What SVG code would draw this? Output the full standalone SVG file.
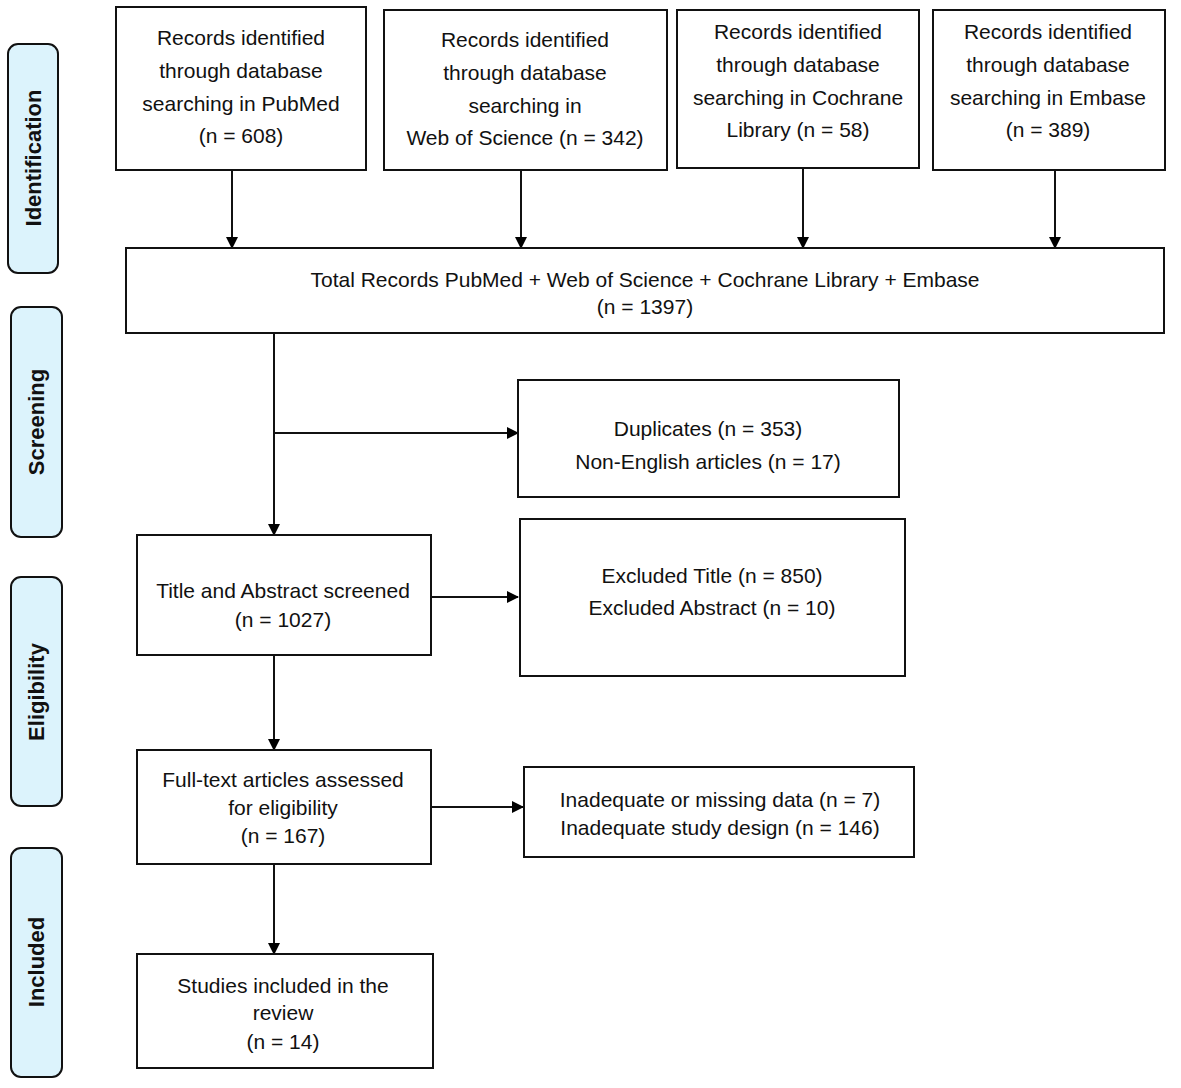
<svg xmlns="http://www.w3.org/2000/svg" width="1181" height="1088" viewBox="0 0 1181 1088">
<defs>
<marker id="ah" markerWidth="12" markerHeight="12" refX="11" refY="6" orient="auto" markerUnits="userSpaceOnUse">
<path d="M0,0 L12,6 L0,12 Z" fill="#000"/>
</marker>
<style>
.box{fill:#fff;stroke:#111;stroke-width:2}
.side{fill:#dcf3fc;stroke:#111;stroke-width:2}
.t{font-family:"Liberation Sans",Arial,sans-serif;font-size:21px;fill:#111;text-anchor:middle}
.s{font-family:"Liberation Sans",Arial,sans-serif;font-size:22px;font-weight:bold;fill:#111;text-anchor:middle}
.c{stroke:#111;stroke-width:2;fill:none}
</style>
</defs>
<rect width="1181" height="1088" fill="#fff"/>

<g id="side-identification"><rect class="side" x="8" y="44" width="50" height="229" rx="10"/><text class="s" transform="translate(41,158) rotate(-90)">Identification</text></g>
<g id="side-screening"><rect class="side" x="11" y="307" width="51" height="230" rx="10"/><text class="s" transform="translate(44,422) rotate(-90)">Screening</text></g>
<g id="side-eligibility"><rect class="side" x="11" y="577" width="51" height="229" rx="10"/><text class="s" transform="translate(44,692) rotate(-90)">Eligibility</text></g>
<g id="side-included"><rect class="side" x="11" y="848" width="51" height="229" rx="10"/><text class="s" transform="translate(44,962) rotate(-90)">Included</text></g>

<g id="connectors">
<line class="c" x1="232" y1="170" x2="232" y2="248" marker-end="url(#ah)"/>
<line class="c" x1="521" y1="170" x2="521" y2="248" marker-end="url(#ah)"/>
<line class="c" x1="803" y1="168" x2="803" y2="248" marker-end="url(#ah)"/>
<line class="c" x1="1055" y1="170" x2="1055" y2="248" marker-end="url(#ah)"/>
<line class="c" x1="274" y1="333" x2="274" y2="535" marker-end="url(#ah)"/>
<line class="c" x1="274" y1="433" x2="518" y2="433" marker-end="url(#ah)"/>
<line class="c" x1="431" y1="597" x2="518" y2="597" marker-end="url(#ah)"/>
<line class="c" x1="274" y1="655" x2="274" y2="750" marker-end="url(#ah)"/>
<line class="c" x1="431" y1="807" x2="523" y2="807" marker-end="url(#ah)"/>
<line class="c" x1="274" y1="864" x2="274" y2="954" marker-end="url(#ah)"/>
</g>

<g id="pubmed"><rect class="box" x="116" y="7" width="250" height="163"/>
<text class="t" x="241" y="45">Records identified</text><text class="t" x="241" y="78">through database</text><text class="t" x="241" y="111">searching in PubMed</text><text class="t" x="241" y="143">(n = 608)</text></g>
<g id="wos"><rect class="box" x="384" y="10" width="283" height="160"/>
<text class="t" x="525" y="47">Records identified</text><text class="t" x="525" y="80">through database</text><text class="t" x="525" y="113">searching in</text><text class="t" x="525" y="145">Web of Science (n = 342)</text></g>
<g id="cochrane"><rect class="box" x="677" y="10" width="242" height="158"/>
<text class="t" x="798" y="39">Records identified</text><text class="t" x="798" y="72">through database</text><text class="t" x="798" y="105">searching in Cochrane</text><text class="t" x="798" y="137">Library (n = 58)</text></g>
<g id="embase"><rect class="box" x="933" y="10" width="232" height="160"/>
<text class="t" x="1048" y="39">Records identified</text><text class="t" x="1048" y="72">through database</text><text class="t" x="1048" y="105">searching in Embase</text><text class="t" x="1048" y="137">(n = 389)</text></g>
<g id="total"><rect class="box" x="126" y="248" width="1038" height="85"/>
<text class="t" x="645" y="287">Total Records PubMed + Web of Science + Cochrane Library + Embase</text><text class="t" x="645" y="314">(n = 1397)</text></g>
<g id="duplicates"><rect class="box" x="518" y="380" width="381" height="117"/>
<text class="t" x="708" y="436">Duplicates (n = 353)</text><text class="t" x="708" y="469">Non-English articles (n = 17)</text></g>
<g id="screened"><rect class="box" x="137" y="535" width="294" height="120"/>
<text class="t" x="283" y="598">Title and Abstract screened</text><text class="t" x="283" y="627">(n = 1027)</text></g>
<g id="excluded"><rect class="box" x="520" y="519" width="385" height="157"/>
<text class="t" x="712" y="583">Excluded Title (n = 850)</text><text class="t" x="712" y="615">Excluded Abstract (n = 10)</text></g>
<g id="fulltext"><rect class="box" x="137" y="750" width="294" height="114"/>
<text class="t" x="283" y="787">Full-text articles assessed</text><text class="t" x="283" y="815">for eligibility</text><text class="t" x="283" y="843">(n = 167)</text></g>
<g id="inadequate"><rect class="box" x="524" y="767" width="390" height="90"/>
<text class="t" x="720" y="807">Inadequate or missing data (n = 7)</text><text class="t" x="720" y="835">Inadequate study design (n = 146)</text></g>
<g id="included"><rect class="box" x="137" y="954" width="296" height="114"/>
<text class="t" x="283" y="993">Studies included in the</text><text class="t" x="283" y="1020">review</text><text class="t" x="283" y="1049">(n = 14)</text></g>
</svg>
